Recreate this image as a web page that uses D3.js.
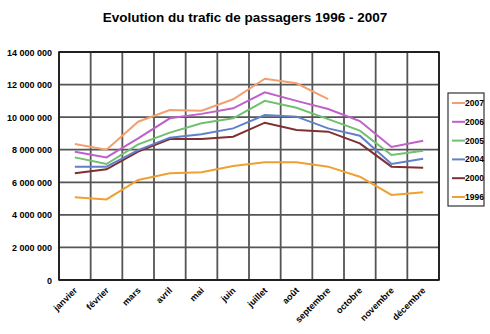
<!DOCTYPE html>
<html>
<head>
<meta charset="utf-8">
<script src="https://cdn.jsdelivr.net/npm/d3@7"></script>
<style>
  body { margin: 0; background: #fff; }
  text { font-family: "Liberation Sans", Arial, sans-serif; }
</style>
</head>
<body>
<div id="chart"></div>
<script>
var months = ["janvier", "février", "mars", "avril", "mai", "juin", "juillet", "août", "septembre", "octobre", "novembre", "décembre"];
var years = ["2007", "2006", "2005", "2004", "2000", "1996"];
var colors = ["#f2a070", "#c060c8", "#70c070", "#6080c8", "#803030", "#f0a030"];
var yTicks = [0, 2000000, 4000000, 6000000, 8000000, 10000000, 12000000, 14000000];

// values per year, janvier -> décembre (2007 stops in septembre)
var v2007 = [8350000, 8000000, 9720000, 10440000, 10400000, 11100000, 12360000, 12080000, 11100000];
var v2006 = [7880000, 7530000, 8700000, 9930000, 10200000, 10540000, 11520000, 11000000, 10500000, 9760000, 8170000, 8550000];
var v2005 = [7530000, 7120000, 8330000, 9050000, 9620000, 9930000, 11000000, 10580000, 9880000, 9170000, 7680000, 7940000];
var v2004 = [6960000, 6960000, 7980000, 8740000, 8950000, 9310000, 10130000, 10030000, 9310000, 8860000, 7120000, 7450000];
var v2000 = [6550000, 6800000, 7880000, 8660000, 8660000, 8800000, 9660000, 9210000, 9110000, 8390000, 6960000, 6900000];
var v1996 = [5080000, 4950000, 6140000, 6550000, 6610000, 7000000, 7230000, 7230000, 6960000, 6340000, 5220000, 5390000];
var series = [v2007, v2006, v2005, v2004, v2000, v1996];

var W = 490, H = 334;
var margin = {top: 52, left: 59, right: 51, bottom: 54};
var width = W - margin.left - margin.right,
    height = H - margin.top - margin.bottom;

var svg = d3.select("#chart").append("svg")
    .attr("width", W).attr("height", H);

svg.append("text")
    .attr("x", 245).attr("y", 22)
    .attr("text-anchor", "middle")
    .style("font-size", "13.5px").style("font-weight", "bold")
    .text("Evolution du trafic de passagers 1996 - 2007");

var g = svg.append("g")
    .attr("transform", "translate(" + margin.left + "," + margin.top + ")");

var x = d3.scaleBand().domain(months).range([0, width]);
var y = d3.scaleLinear().domain([0, 14000000]).range([height, 0]);

// grid
g.append("g").selectAll("line.h").data(yTicks).join("line")
    .attr("x1", 0).attr("x2", width)
    .attr("y1", d => y(d)).attr("y2", d => y(d))
    .attr("stroke", "#555").attr("stroke-width", 1.8);
var edges = months.map(m => x(m)).concat([width]);
g.append("g").selectAll("line.v").data(edges).join("line")
    .attr("x1", d => d).attr("x2", d => d)
    .attr("y1", 0).attr("y2", height)
    .attr("stroke", "#555").attr("stroke-width", 1.8);
g.append("rect").attr("width", width).attr("height", height)
    .attr("fill", "none").attr("stroke", "#111").attr("stroke-width", 1.5);

// y axis labels
var fmt = d => d3.format(",")(d).replace(/,/g, " ");
g.append("g").selectAll("text").data(yTicks).join("text")
    .attr("x", -7).attr("y", d => y(d) + 3.5)
    .attr("text-anchor", "end")
    .style("font-size", "9px").style("font-weight", "bold")
    .text(fmt);

// x axis labels
g.append("g").selectAll("text").data(months).join("text")
    .attr("transform", d => "translate(" + (x(d) + x.bandwidth() / 2 + 3) + "," + (height + 11) + ") rotate(-45)")
    .attr("text-anchor", "end")
    .style("font-size", "9px").style("font-weight", "bold")
    .text(d => d);

// lines
var line = d3.line()
    .x((d, i) => x(months[i]) + x.bandwidth() / 2)
    .y(d => y(d));
g.append("g").selectAll("path").data(series.slice().reverse()).join("path")
    .attr("fill", "none")
    .attr("stroke", (d, i) => colors[series.length - 1 - i])
    .attr("stroke-width", 2)
    .attr("d", line);

// legend
var lg = svg.append("g").attr("transform", "translate(448,93)");
lg.append("rect").attr("width", 36).attr("height", 113)
    .attr("fill", "#fff").attr("stroke", "#333").attr("stroke-width", 1.2);
var item = lg.selectAll("g").data(years).join("g")
    .attr("transform", (d, i) => "translate(0," + (10 + i * 18.8) + ")");
item.append("line").attr("x1", 4).attr("x2", 17)
    .attr("stroke", (d, i) => colors[i]).attr("stroke-width", 2);
item.append("text").attr("x", 17).attr("y", 3)
    .style("font-size", "8.5px").style("font-weight", "bold")
    .text(d => d);
</script>
</body>
</html>
